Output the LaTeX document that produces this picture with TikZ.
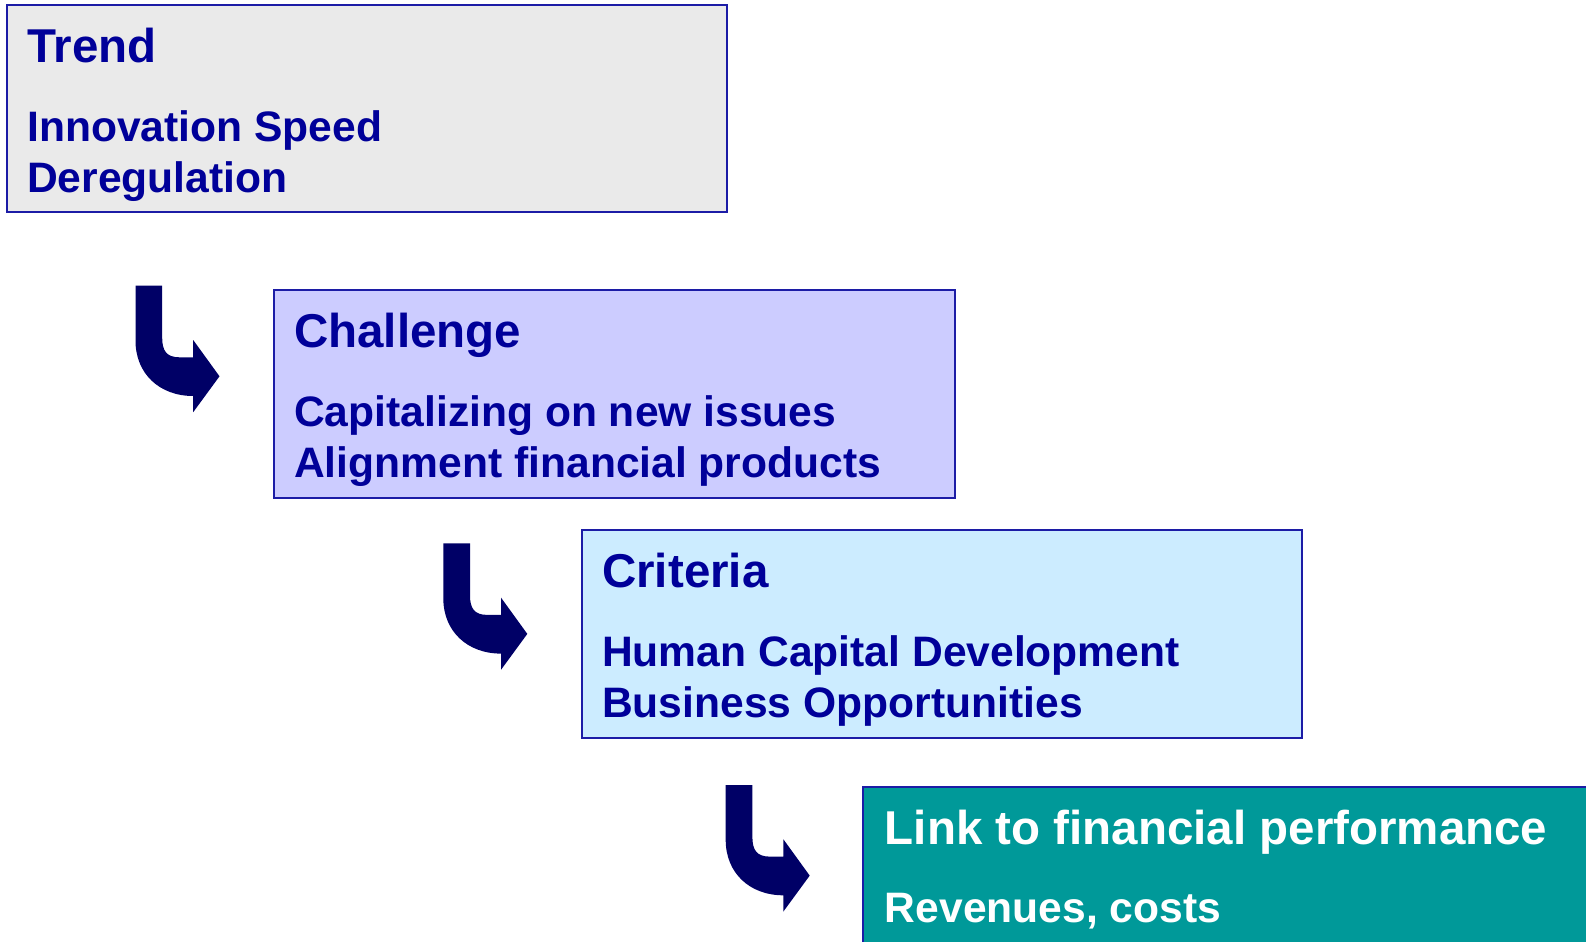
\documentclass[tikz,border=0pt]{standalone}
\usepackage{fontspec}
\setmainfont{Liberation Sans}
\usepackage{xcolor}

\definecolor{navytext}{HTML}{000099}
\definecolor{panelline}{HTML}{1C1CA6}
\definecolor{trendgray}{HTML}{EAEAEA}
\definecolor{challengelilac}{HTML}{CCCCFF}
\definecolor{criteriasky}{HTML}{CCECFF}
\definecolor{linkteal}{HTML}{009999}
\definecolor{arrownavy}{HTML}{000066}

\tikzset{
	panel/.style={draw=panelline, line width=1pt, anchor=north west, inner sep=0pt, minimum height=103.7pt},
	heading/.style={anchor=base west, inner sep=0pt, text=navytext, font=\bfseries\fontsize{23.75}{28}\selectfont},
	body/.style={anchor=base west, inner sep=0pt, align=left, text=navytext, font=\bfseries\fontsize{21.3}{25.5}\selectfont},
	pics/bendarrow/.style={code={
		\fill[arrownavy] (0,0) -- (26.7,0) -- (26.7,52) .. controls (26.7,65) and (31,71.6) .. (44,71.6)
			-- (57.7,71.6) -- (57.7,54.3) -- (84,90.6) -- (57.7,126.5) -- (57.7,110.3)
			.. controls (24,110.3) and (0,88) .. (0,55) -- cycle;
	}}
}

\begin{document}
\begin{tikzpicture}[x=0.5pt, y=-0.5pt]
	\useasboundingbox (0,0) rectangle (1586,942);
	% boxes
	\node[panel, fill=trendgray, minimum width=360pt] (trend) at (6,4) {};
	\node[panel, fill=challengelilac, minimum width=340.5pt] (challenge) at (273,289.3) {};
	\node[panel, fill=criteriasky, minimum width=360pt] (criteria) at (581,529.3) {};
	\node[panel, fill=linkteal, minimum width=400pt, minimum height=95pt] (link) at (861.7,785.7) {};
	% texts (base of a two-line node is its last line)
	\node[heading] (trendhead) at ([xshift=10.4pt,yshift=-29pt]trend.north west) {Trend};
	\node[body] (trendbody) at ([xshift=10.4pt,yshift=-94pt]trend.north west) {Innovation Speed\\Deregulation};
	\node[heading] (challengehead) at ([xshift=10.4pt,yshift=-29pt]challenge.north west) {Challenge};
	\node[body] (challengebody) at ([xshift=10.4pt,yshift=-94pt]challenge.north west) {Capitalizing on new issues\\Alignment financial products};
	\node[heading] (criteriahead) at ([xshift=10.4pt,yshift=-29pt]criteria.north west) {Criteria};
	\node[body] (criteriabody) at ([xshift=10.4pt,yshift=-94pt]criteria.north west) {Human Capital Development\\Business Opportunities};
	\node[heading, text=white] (linkhead) at ([xshift=11.4pt,yshift=-29.6pt]link.north west) {Link to financial performance};
	\node[body, text=white] (linkbody) at ([xshift=11.4pt,yshift=-68.2pt]link.north west) {Revenues, costs};
	% bent arrows
	\pic (arrowa) at (135.5,285.7) {bendarrow};
	\pic (arrowb) at (443.3,543.3) {bendarrow};
	\pic (arrowc) at (725.7,785) {bendarrow};
\end{tikzpicture}
\end{document}
